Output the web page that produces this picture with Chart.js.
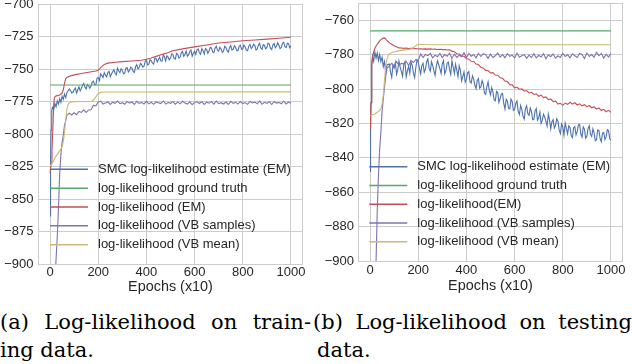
<!DOCTYPE html>
<html>
<head>
<meta charset="utf-8">
<title>Log-likelihood on training and testing data</title>
<script src="https://cdn.jsdelivr.net/npm/chart.js@4.4.1/dist/chart.umd.min.js"></script>
<style>
  html, body { margin: 0; padding: 0; background: #ffffff; }
  #page { position: relative; width: 632px; height: 364px; overflow: hidden; background: #ffffff; }
  canvas { position: absolute; top: 0; }
  #train { left: 0; }
  #test { left: 310px; }
  .cap { position: absolute; font-family: "DejaVu Serif", serif; font-size: 21px; line-height: 20px; color: #000; white-space: nowrap; }
  .cap.first { white-space: normal; text-align: justify; text-align-last: justify; }
</style>
</head>
<body>
<div id="page">
  <canvas id="train" width="310" height="300"></canvas>
  <canvas id="test" width="322" height="300"></canvas>
  <div class="cap first" style="left:0;top:312px;width:311px">(a) Log-likelihood on train-</div>
  <div class="cap" style="left:0;top:340px">ing data.</div>
  <div class="cap first" style="left:313px;top:312px;width:319px">(b) Log-likelihood on testing</div>
  <div class="cap" style="left:317px;top:340px">data.</div>
</div>
<script>
/* ---- data ---- */

// epochs (x10) for the SMC estimates (sampled every 5 after the start)
const epochsFine = [0, 2, 4, 6, 8, 10, 15, 20, 25, 30, 35, 40, 45, 50, 55, 60, 65, 70,
    80, 85, 90, 95, 100, 105, 110, 115, 120, 125, 130, 135, 140, 145, 150, 155, 160, 165,
    170, 175, 180, 185, 190, 195, 200, 205, 210, 215, 220, 225, 230, 235, 240, 245, 250, 255,
    260, 265, 270, 275, 280, 285, 290, 295, 300, 305, 310, 315, 320, 325, 330, 335, 340, 345,
    350, 355, 360, 365, 370, 375, 380, 385, 390, 395, 400, 405, 410, 415, 420, 425, 430, 435,
    440, 445, 450, 455, 460, 465, 470, 475, 480, 485, 490, 495, 500, 505, 510, 515, 520, 525,
    530, 535, 540, 545, 550, 555, 560, 565, 570, 575, 580, 585, 590, 595, 600, 605, 610, 615,
    620, 625, 630, 635, 640, 645, 650, 655, 660, 665, 670, 675, 680, 685, 690, 695, 700, 705,
    710, 715, 720, 725, 730, 735, 740, 745, 750, 755, 760, 765, 770, 775, 780, 785, 790, 795,
    800, 805, 810, 815, 820, 825, 830, 835, 840, 845, 850, 855, 860, 865, 870, 875, 880, 885,
    890, 895, 900, 905, 910, 915, 920, 925, 930, 935, 940, 945, 950, 955, 960, 965, 970, 975,
    980, 985, 990, 995, 1000];

// epochs (x10) for the other noisy series (every 10 after the start)
const epochsDense = [0, 2, 4, 6, 8, 10, 15, 20, 25, 30, 35, 40, 45, 50, 55, 60, 65, 70,
    80, 90, 100, 110, 120, 130, 140, 150, 160, 170, 180, 190, 200, 210, 220, 230, 240, 250,
    260, 270, 280, 290, 300, 310, 320, 330, 340, 350, 360, 370, 380, 390, 400, 410, 420, 430,
    440, 450, 460, 470, 480, 490, 500, 510, 520, 530, 540, 550, 560, 570, 580, 590, 600, 610,
    620, 630, 640, 650, 660, 670, 680, 690, 700, 710, 720, 730, 740, 750, 760, 770, 780, 790,
    800, 810, 820, 830, 840, 850, 860, 870, 880, 890, 900, 910, 920, 930, 940, 950, 960, 970,
    980, 990, 1000];

// (a) training data
const smcTrain = [-863, -826, -797, -788, -782, -779.5, -781.5, -776.5, -779, -774.5, -777, -772.8, -775.6, -771, -773.4, -769.2, -772, -768.2,
    -765.4, -766.6, -768.4, -767.9, -765.9, -764.7, -768.6, -766.0, -763.8, -766.9,
    -764.9, -762.6, -761.2, -764.1, -765.4, -761.9, -762.7, -764.8, -763.1, -760.0,
    -759.3, -762.2, -762.4, -757.0, -756.7, -758.9, -753.7, -754.9, -756.6, -752.8,
    -754.7, -756.1, -752.5, -751.9, -755.9, -753.8, -752.1, -750.6, -753.3, -754.6,
    -749.4, -751.5, -752.8, -749.8, -751.1, -753.6, -753.2, -749.4, -748.9, -752.3,
    -751.2, -748.6, -749.3, -751.8, -752.7, -748.3, -746.6, -749.9, -748.9, -745.8,
    -746.5, -748.6, -747.8, -744.2, -743.1, -746.9, -746.3, -742.9, -743.6, -745.4,
    -746.3, -741.7, -741.9, -744.6, -742.7, -740.9, -743.7, -744.1, -739.2, -740.6,
    -743.7, -739.9, -740.9, -743.0, -741.6, -738.4, -738.7, -741.9, -742.4, -738.0,
    -738.7, -741.6, -740.8, -737.6, -736.5, -740.3, -738.9, -736.1, -740.1, -739.2,
    -736.5, -735.4, -740.2, -737.9, -736.4, -738.8, -735.1, -734.7, -737.5, -738.7,
    -734.3, -735.9, -738.5, -734.2, -735.0, -737.9, -736.2, -733.5, -733.8, -736.9,
    -737.4, -734.0, -732.4, -735.6, -736.3, -733.2, -734.6, -737.2, -736.4, -732.5,
    -733.3, -735.9, -737.0, -733.6, -731.9, -735.3, -734.9, -732.2, -733.1, -736.1,
    -735.8, -732.6, -731.7, -734.8, -734.6, -731.5, -733.0, -735.6, -735.8, -732.4,
    -731.1, -734.2, -733.3, -730.8, -732.0, -735.4, -734.5, -731.6, -730.2, -733.9,
    -734.9, -731.3, -731.9, -734.6, -733.4, -730.1, -730.9, -734.2, -735.0, -731.6,
    -730.4, -733.7, -732.5, -729.8, -731.7, -734.4, -733.3, -730.3, -729.4, -732.9,
    -733.5, -730.2, -730.5, -733.6, -732.1];

const vbSamplesTrain = [-990, -985, -979, -972, -965, -958, -938, -914, -896, -879, -857, -831, -816, -806, -801, -793, -790, -785.5,
    -784.0, -785.4, -783.7, -785.1, -782.6, -783.4, -781.4, -783.4, -781.5, -781.4,
    -777.9, -778.4, -775.6, -774.8, -776.9, -776.1, -775.2, -777.2, -775.5, -776.4,
    -774.7, -776.7, -775.9, -777.1, -775.0, -776.3, -775.4, -777.3, -774.8, -776.5,
    -775.7, -776.9, -774.9, -776.8, -775.6, -777.2, -775.3, -775.9, -776.6, -774.6,
    -777.0, -775.8, -776.4, -775.1, -777.1, -775.5, -776.8, -774.8, -776.2, -777.0,
    -775.3, -777.4, -775.7, -775.2, -776.5, -775.0, -777.2, -775.5, -776.3, -775.1,
    -777.0, -774.7, -776.7, -775.9, -776.9, -775.4, -777.3, -774.9, -776.4, -775.6,
    -777.0, -775.0, -776.6, -775.8, -777.2, -775.0, -776.1, -775.5, -776.8, -774.7,
    -777.1, -775.6, -776.5, -775.2, -777.3, -775.1, -776.2, -775.8, -776.7, -774.8,
    -776.9, -775.4, -776.3];

const epochsEmTrain = [0, 5, 8, 12, 15, 18, 22, 30, 40, 50, 55, 60, 65, 70, 80, 100, 130, 160, 190, 200,
    210, 225, 240, 270, 300, 340, 380, 400, 420, 440, 460, 480, 510, 550, 600, 650, 700, 760, 800, 850,
    900, 950, 1000];
const emTrain = [-830, -822, -812, -795, -778, -772, -771, -770.5, -770, -768.5, -766, -761, -757.5, -756.5, -755.5, -754.5, -753.5, -752.5, -751.5, -751,
    -749, -746.5, -745.5, -744.8, -744.3, -743.8, -743.3, -742.5, -741.5, -740.3, -739, -738, -736, -734.5, -733, -731.5, -730, -729, -728.3, -727.7,
    -727, -726.3, -725.6];

const epochsVbMeanTrain = [0, 10, 25, 40, 50, 55, 60, 65, 70, 75, 85, 100, 170, 180, 190, 200, 210, 230, 1000];
const vbMeanTrain = [-825, -822, -817, -813, -810, -806, -799, -789, -781, -777, -775.5, -775.2, -775, -774, -771.5, -769, -768, -767.7, -767.6];

const epochsTruth = [0, 1000];
const truthTrain = [-762.3, -762.3];

// (b) testing data
const smcTest = [-848, -826, -808, -794, -786, -781, -784, -778.5, -782, -779, -783.5, -780, -784, -781.5, -787, -784, -790.5, -786,
    -785.5, -790.2, -793.2, -786.1, -787.8, -784.6, -791.4, -788.9, -783.8, -787.3,
    -789.7, -792.6, -785.8, -784.1, -792.9, -789.5, -786.8, -790.9, -784.3, -786.2,
    -790.8, -793.4, -787.5, -783.1, -784.3, -788.0, -791.2, -786.4, -785.1, -790.3,
    -788.5, -784.0, -782.5, -787.9, -789.6, -784.2, -786.3, -789.4, -792.1, -786.7,
    -783.6, -785.9, -788.2, -791.0, -785.3, -783.5, -791.2, -789.3, -785.0, -784.4,
    -788.6, -791.5, -783.7, -787.2, -791.0, -785.6, -789.0, -792.7, -786.5, -789.1,
    -795.3, -792.8, -790.1, -796.0, -794.4, -790.6, -789.8, -795.9, -796.5, -792.3,
    -794.1, -797.7, -799.8, -795.0, -793.9, -799.6, -798.8, -795.1, -797.2, -802.5,
    -803.0, -798.4, -795.8, -800.9, -803.4, -799.2, -801.7, -806.3, -806.9, -801.4,
    -802.1, -807.8, -805.6, -803.0, -802.6, -808.4, -811.7, -806.0, -807.0, -811.2,
    -811.6, -805.9, -807.2, -812.5, -811.9, -808.3, -806.9, -813.1, -814.8, -809.6,
    -811.8, -815.9, -817.5, -811.4, -809.7, -814.4, -815.3, -811.0, -813.0, -817.9,
    -817.6, -812.8, -811.3, -818.2, -816.8, -813.5, -820.0, -818.1, -814.7, -816.3,
    -818.8, -821.6, -814.6, -817.9, -823.2, -819.0, -817.8, -822.7, -821.1, -817.3,
    -818.7, -823.8, -825.9, -820.4, -822.1, -826.9, -819.9, -823.0, -826.0, -821.4,
    -822.2, -827.1, -828.3, -822.6, -821.9, -826.8, -824.5, -820.9, -820.6, -826.2,
    -827.9, -822.0, -823.4, -828.6, -827.5, -822.9, -821.3, -826.4, -827.6, -823.2,
    -825.5, -830.1, -829.5, -823.8, -824.1, -828.9, -830.7, -825.6, -825.3, -829.4,
    -827.7, -823.6, -824.3, -829.0, -829.9];

const emTest = [-823, -818, -808, -795, -786, -782, -778.5, -776.5, -775, -774, -773, -772, -771.3, -770.8, -770.4, -770.3, -770.8, -771.8,
    -773.2, -774.0, -774.9, -775.5, -776.1, -776.2, -776.4, -776.2, -776.5, -776.4,
    -776.6, -776.5, -776.7, -776.6, -776.8, -776.7, -776.8, -776.7, -776.9, -776.8,
    -777.0, -776.9, -777.1, -777.0, -777.3, -777.2, -778.0, -778.3, -779.5, -779.6,
    -780.9, -781.0, -782.4, -782.6, -783.9, -784.0, -785.5, -785.8, -787.4, -787.9,
    -789.2, -789.3, -790.7, -790.5, -791.9, -792.0, -793.5, -793.8, -795.4, -795.7,
    -797.5, -797.6, -799.3, -799.0, -800.1, -799.9, -801.3, -800.9, -802.3, -801.9,
    -803.2, -802.8, -804.2, -803.6, -805.0, -804.6, -806.2, -805.8, -807.4, -807.1,
    -808.8, -808.3, -809.5, -808.2, -808.9, -807.7, -808.8, -808.0, -809.3, -808.6,
    -809.8, -809.1, -810.3, -809.6, -810.9, -810.3, -811.7, -811.0, -812.5, -811.8,
    -813.2, -812.4, -813.6];

const vbSamplesTest = [-1000, -990, -980, -970, -960, -950, -930, -912, -900, -870, -850, -835, -825, -813, -806, -799, -793, -788,
    -786.6, -785.1, -786.7, -784.1, -786.2, -785.1, -785.4, -783.9, -786.4, -783.5,
    -784.6, -782.9, -783.5, -779.6, -781.7, -779.9, -780.6, -779.3, -781.9, -780.3,
    -781.2, -779.3, -781.7, -780.0, -781.0, -779.2, -782.1, -779.8, -781.6, -780.4,
    -781.3, -778.9, -781.7, -779.4, -780.9, -779.9, -781.9, -779.3, -781.1, -779.5,
    -780.1, -782.2, -779.7, -781.7, -780.7, -779.1, -781.5, -779.9, -781.8, -779.4,
    -781.0, -780.3, -782.0, -779.1, -781.5, -780.7, -780.0, -782.2, -780.3, -781.8,
    -779.5, -781.9, -780.4, -781.4, -779.4, -782.4, -780.1, -781.2, -779.6, -782.1,
    -780.7, -781.6, -779.2, -781.1, -780.0, -782.0, -779.6, -780.7, -781.7, -779.2,
    -780.1, -782.3, -779.1, -781.1, -780.0, -781.6, -778.7, -780.6, -779.3, -782.0,
    -779.8, -781.4, -779.2];

const epochsVbMeanTest = [0, 10, 20, 30, 40, 47, 52, 56, 60, 65, 70, 78, 90, 112, 140, 167, 185, 195, 210, 240, 1000];
const vbMeanTest = [-815.5, -815, -814.5, -813.5, -812.5, -810.7, -807, -802, -795, -787, -782.5, -779.7, -778.8, -778, -777.4, -776.8, -775.5, -774.3, -774, -774.3, -774.3];

const truthTest = [-766.2, -766.2];

// axes and legend text
const xTicks = [0, 200, 400, 600, 800, 1000];
const yTicksTrain = [-700, -725, -750, -775, -800, -825, -850, -875, -900];
const yTicksTest = [-760, -780, -800, -820, -840, -860, -880, -900];
const xLabel = 'Epochs (x10)';
const legendTrain = ['SMC log-likelihood estimate (EM)', 'log-likelihood ground truth', 'log-likelihood (EM)',
    'log-likelihood (VB samples)', 'log-likelihood (VB mean)'];
const legendTest = ['SMC log-likelihood estimate (EM)', 'log-likelihood ground truth', 'log-likelihood(EM)',
    'log-likelihood (VB samples)', 'log-likelihood (VB mean)'];

/* ---- styling ---- */

const COLORS = {
    blue: '#4c72b0',
    green: '#55a868',
    red: '#c44e52',
    purple: '#8172b2',
    yellow: '#ccb974',
};
const GRID = '#cccccc';
const INK = '#262626';

Chart.defaults.font.family = '"Liberation Sans", Arial, sans-serif';
Chart.defaults.color = INK;

function zip(xs, ys) {
    return xs.map((x, i) => ({ x: x, y: ys[i] }));
}

// matplotlib draws later lines on top; in Chart.js a lower order is drawn on top
function lineSet(label, xs, ys, color, order) {
    return {
        label,
        data: zip(xs, ys),
        borderColor: color,
        backgroundColor: color,
        borderWidth: 1.1,
        pointRadius: 0,
        tension: 0,
        fill: false,
        order,
    };
}

// light grey box round the plot area (seaborn whitegrid spines)
const framePlugin = {
    id: 'frame',
    beforeDatasetsDraw(chart) {
        const { ctx, chartArea: a } = chart;
        ctx.save();
        ctx.strokeStyle = GRID;
        ctx.lineWidth = 1;
        ctx.strokeRect(Math.round(a.left) + 0.5, Math.round(a.top) + 0.5,
            Math.round(a.right - a.left) - 1, Math.round(a.bottom - a.top));
        ctx.restore();
    },
};

// frameless legend placed inside the axes, like matplotlib's
const legendPlugin = {
    id: 'lineLegend',
    afterDatasetsDraw(chart, args, opts) {
        const ctx = chart.ctx;
        ctx.save();
        ctx.font = '13px "Liberation Sans", Arial, sans-serif';
        ctx.textBaseline = 'middle';
        ctx.textAlign = 'left';
        chart.data.datasets.forEach((ds, i) => {
            const y = opts.y + i * opts.step;
            ctx.strokeStyle = ds.borderColor;
            ctx.lineWidth = 1.5;
            ctx.beginPath();
            ctx.moveTo(opts.x, y);
            ctx.lineTo(opts.x + 38, y);
            ctx.stroke();
            ctx.fillStyle = INK;
            ctx.fillText(opts.labels[i], opts.x + 48, y);
        });
        ctx.restore();
    },
};

/**
 * Draw one log-likelihood panel.
 * box holds the pixel geometry of the axes inside the canvas.
 */
function renderPanel(canvas, datasets, yMin, yMax, yTicks, labels, box) {
    return new Chart(canvas, {
        type: 'line',
        data: { datasets },
        options: {
            responsive: false,
            animation: false,
            events: [],
            layout: { padding: { left: 0, right: box.right, top: box.top, bottom: 0 } },
            scales: {
                x: {
                    type: 'linear',
                    min: -50,
                    max: 1050,
                    afterBuildTicks: (s) => { s.ticks = xTicks.map(v => ({ value: v })); },
                    afterFit: (s) => {
                        s.height = box.xHeight;
                        s.paddingLeft = 0;
                        s.paddingRight = 0;
                    },
                    grid: { color: GRID, lineWidth: 1, drawTicks: false },
                    border: { display: false },
                    ticks: {
                        color: INK,
                        font: { size: 13 },
                        padding: box.xTickPad,
                        maxRotation: 0,
                        autoSkip: false,
                        callback: (v) => String(v),
                    },
                    title: {
                        display: true,
                        text: xLabel,
                        color: INK,
                        font: { size: 14.4 },
                        padding: { top: 0, bottom: box.titlePad },
                    },
                },
                y: {
                    type: 'linear',
                    min: yMin,
                    max: yMax,
                    afterBuildTicks: (s) => { s.ticks = yTicks.map(v => ({ value: v })); },
                    afterFit: (s) => {
                        s.width = box.yWidth;
                        s.paddingTop = 0;
                        s.paddingBottom = 0;
                    },
                    grid: { color: GRID, lineWidth: 1, drawTicks: false },
                    border: { display: false },
                    ticks: {
                        color: INK,
                        font: { size: 13 },
                        padding: box.yTickPad,
                        autoSkip: false,
                        callback: (v) => (v < 0 ? '\u2212' : '') + Math.abs(v),
                    },
                },
            },
            plugins: {
                legend: { display: false },
                tooltip: { enabled: false },
                lineLegend: { labels, x: box.legendX, y: box.legendY, step: box.legendStep },
            },
        },
        plugins: [framePlugin, legendPlugin],
    });
}

renderPanel(document.getElementById('train'), [
    lineSet(legendTrain[0], epochsFine, smcTrain, COLORS.blue, 5),
    lineSet(legendTrain[1], epochsTruth, truthTrain, COLORS.green, 4),
    lineSet(legendTrain[2], epochsEmTrain, emTrain, COLORS.red, 3),
    lineSet(legendTrain[3], epochsDense, vbSamplesTrain, COLORS.purple, 2),
    lineSet(legendTrain[4], epochsVbMeanTrain, vbMeanTrain, COLORS.yellow, 1),
], -900, -700, yTicksTrain, legendTrain, {
    yWidth: 38, right: 7, top: 4, xHeight: 36,
    xTickPad: 1, titlePad: 4.4, yTickPad: 4.5,
    legendX: 50, legendY: 169.3, legendStep: 18.85,
});

renderPanel(document.getElementById('test'), [
    lineSet(legendTest[0], epochsFine, smcTest, COLORS.blue, 5),
    lineSet(legendTest[1], epochsTruth, truthTest, COLORS.green, 4),
    lineSet(legendTest[2], epochsDense, emTest, COLORS.red, 3),
    lineSet(legendTest[3], epochsDense, vbSamplesTest, COLORS.purple, 2),
    lineSet(legendTest[4], epochsVbMeanTest, vbMeanTest, COLORS.yellow, 1),
], -900, -750, yTicksTest, legendTest, {
    yWidth: 48, right: 9, top: 3, xHeight: 39,
    xTickPad: 2, titlePad: 5.7, yTickPad: 4,
    legendX: 59.3, legendY: 166.7, legendStep: 18.75,
});
</script>
</body>
</html>
